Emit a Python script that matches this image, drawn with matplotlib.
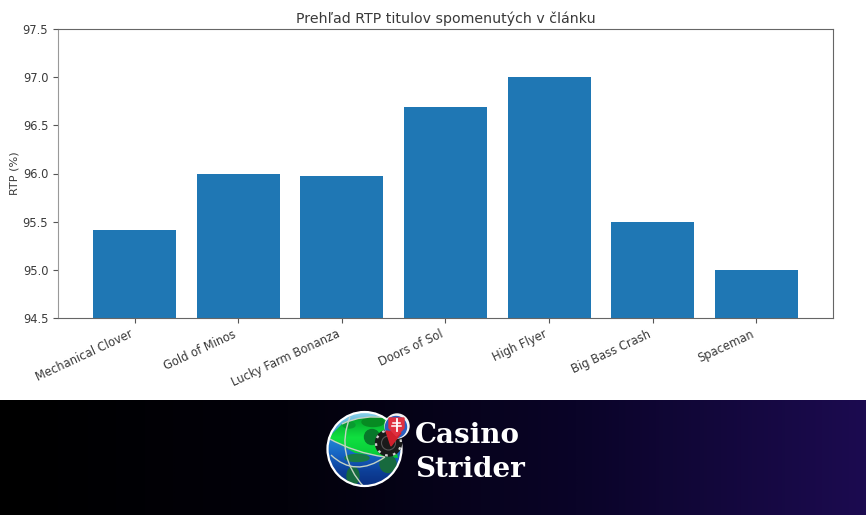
import numpy as np
import matplotlib
matplotlib.use("Agg")
import matplotlib.pyplot as plt
from matplotlib.colors import LinearSegmentedColormap
from matplotlib.patches import Circle, Ellipse, Polygon, PathPatch
from matplotlib.path import Path

# Chart data
titles = ["Mechanical Clover", "Gold of Minos", "Lucky Farm Bonanza", "Doors of Sol",
          "High Flyer", "Big Bass Crash", "Spaceman"]
rtp = [95.41, 95.99, 95.97, 96.69, 97.0, 95.5, 95.0]
y_ticks = [94.5, 95.0, 95.5, 96.0, 96.5, 97.0, 97.5]

W, H = 866, 515
text_col = "#3a3a3a"

fig = plt.figure(figsize=(W / 100, H / 100), dpi=100, facecolor="white")

# Bar chart
ax = fig.add_axes([58 / W, 1 - 318 / H, 775 / W, 289 / H])
ax.bar(titles, rtp, color="#1f77b4")
ax.set_ylim(94.5, 97.5)
ax.set_yticks(y_ticks)
ax.set_yticklabels([f"{t:.1f}" for t in y_ticks])
ax.set_ylabel("RTP (%)", fontsize=8.1, color=text_col, labelpad=2)
ax.set_title("Prehľad RTP titulov spomenutých v článku", fontsize=10.2, color=text_col, pad=4)
ax.tick_params(axis="both", labelsize=8.3, labelcolor=text_col, color="#555555")
plt.setp(ax.get_xticklabels(), rotation=25, ha="right")
for s in ax.spines.values():
    s.set_color("#666666")
ax.spines["left"].set_color("#999999")

# Footer banner, pixel coordinates
bg = fig.add_axes([0, 0, 1, 115 / H])
bg.axis("off")
cmap = LinearSegmentedColormap.from_list("banner", ["#000000", "#02010a", "#0a0428", "#1c0b50"])
bg.imshow(np.linspace(0, 1, 512).reshape(1, -1), cmap=cmap, extent=[0, W, 515, 400], aspect="auto")

# Logo: globe
cx, cy, r = 364.5, 449, 37
clip = Circle((cx, cy), r, transform=bg.transData)
sea_cmap = LinearSegmentedColormap.from_list(
    "sea", ["#8fd4ea", "#4aa8d8", "#1f7fd0", "#1560c0", "#0d3f98", "#0a2f80"])
sea = bg.imshow(np.linspace(0, 1, 128).reshape(-1, 1), cmap=sea_cmap,
                extent=[cx - r, cx + r, cy + r, cy - r], aspect="auto", zorder=2)
sea.set_clip_path(clip)

green_cmap = LinearSegmentedColormap.from_list("green", ["#03a02a", "#10e040", "#07c838"])
green = bg.imshow(np.linspace(0, 1, 64).reshape(-1, 1), cmap=green_cmap,
                  extent=[cx - r, cx + r, 458, 417], aspect="auto", zorder=3)
green.set_clip_path(PathPatch(Path(
    [(342, 424), (362, 414), (390, 418), (398, 458), (385, 457), (355, 453), (328, 438), (342, 424)],
    [Path.MOVETO, Path.CURVE3, Path.CURVE3, Path.LINETO, Path.CURVE3, Path.CURVE3, Path.LINETO, Path.CLOSEPOLY]),
    transform=bg.transData))

land = [(373, 422, 22, 9, "#078a22"), (372, 437, 15, 15, "#07782a"), (349, 425, 12, 6, "#0a9a30"),
        (353, 476, 12, 18, "#176a3e"), (388, 464, 16, 17, "#176a3e"), (357, 458, 24, 7, "#1a7a44")]
for ex, ey, ew, eh, ec in land:
    e = Ellipse((ex, ey), ew, eh, color=ec, zorder=4)
    bg.add_patch(e)
    e.set_clip_path(clip)

orbits = [[(328, 438), (355, 453), (385, 457)],
          [(331, 455), (355, 478), (385, 457)],
          [(350, 417), (335, 455), (364, 487)],
          [(342, 424), (362, 414), (390, 418)]]
for pts in orbits:
    o = PathPatch(Path(pts, [Path.MOVETO, Path.CURVE3, Path.CURVE3]),
                  fill=False, ec="#c4d2c4", lw=1.0, zorder=5)
    bg.add_patch(o)
    o.set_clip_path(clip)
bg.add_patch(Circle((cx, cy), r, fill=False, ec="white", lw=1.6, zorder=6))

# Logo: chip and pin
bg.add_patch(Circle((388.5, 443), 13, color="#1a1a1a", zorder=7))
bg.add_patch(Circle((388.5, 443), 12.5, fill=False, ec="#d0d0d0", lw=1.6, ls=(0, (1.2, 2.4)), zorder=8))
bg.add_patch(Circle((388.5, 443), 7, fill=False, ec="#555555", lw=0.8, zorder=8))
bg.add_patch(Circle((397, 426), 12, color="#f4f4f4", zorder=9))
bg.add_patch(Circle((396, 427), 10.5, color="#2a5fc0", zorder=10))
bg.add_patch(Polygon([(386, 431), (401, 433), (391, 446)], color="#d0202c", zorder=11))
bg.add_patch(Polygon([(389, 418), (404, 418), (404, 428), (396.5, 436), (389, 428)], color="#e03040", zorder=12))
bg.plot([396.5, 396.5], [419, 431], color="white", lw=1.3, zorder=13)
bg.plot([393, 400], [422.5, 422.5], color="white", lw=1.1, zorder=13)
bg.plot([392, 401], [426, 426], color="white", lw=1.1, zorder=13)

# Logo: wordmark
bg.text(415, 443, "Casino", color="white", fontsize=20, family="DejaVu Serif", weight="bold",
        ha="left", va="baseline", zorder=5)
bg.text(415, 477, "Strider", color="white", fontsize=20, family="DejaVu Serif", weight="bold",
        ha="left", va="baseline", zorder=5)
bg.set_xlim(0, W)
bg.set_ylim(515, 400)

fig.savefig("out.png", dpi=100)
